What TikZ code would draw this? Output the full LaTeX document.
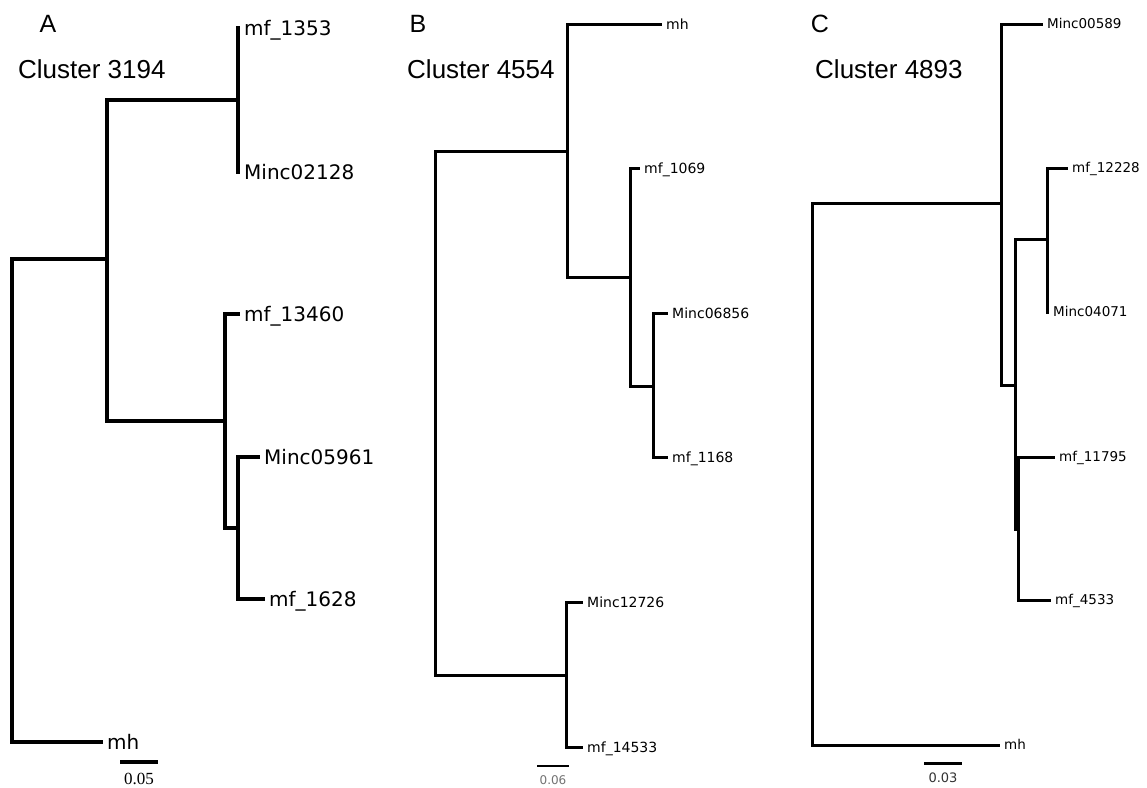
\documentclass[tikz,border=0pt]{standalone}
\usepackage{fontspec}
\newfontfamily\hdfont{Liberation Sans}
\newfontfamily\lblfont{DejaVu Sans}
\newfontfamily\barfont{Liberation Serif}
\usetikzlibrary{positioning}

\begin{document}
\begin{tikzpicture}[
  x=1pt, y=-1pt,
  panel/.style={font=\hdfont\fontsize{25}{29}\selectfont, inner sep=0pt},
  title/.style={font=\hdfont\fontsize{26}{30}\selectfont, anchor=west, inner sep=0pt},
  leafA/.style={font=\lblfont\fontsize{20}{24}\selectfont, anchor=west,
                inner sep=4pt, text height=14.6pt, text depth=0pt},
  leafB/.style={font=\lblfont\fontsize{14}{17}\selectfont, anchor=west,
                inner sep=4pt, text height=10.2pt, text depth=0pt},
  leafC/.style={font=\lblfont\fontsize{13.5}{16}\selectfont, anchor=west,
                inner sep=4pt, text height=9.9pt, text depth=0pt},
  brA/.style={line width=3.2pt},
  brB/.style={line width=3pt},
  brC/.style={line width=3pt},
]
\useasboundingbox[fill=white] (0,0) rectangle (1147,787);

% Panel A
\node[panel] (labA) at (48,24) {A};
\node[title] (cluA) at (18,69) {Cluster 3194};

\node[leafA] (a1353)  at (240,28)  {mf\_1353};
\node[leafA] (a2128)  at (240,172) {Minc02128};
\node[leafA] (a13460) at (240,314) {mf\_13460};
\node[leafA] (a5961)  at (260,457) {Minc05961};
\node[leafA] (a1628)  at (265,599) {mf\_1628};
\node[leafA] (amh)    at (103,742) {mh};

\coordinate (rA)  at (12,500);
\coordinate (nA1) at (107,259);
\coordinate (nA2) at (238,100);
\coordinate (nA3) at (225,421);
\coordinate (nA4) at (238,528);

\draw[brA] (rA) |- (nA1);  \draw[brA] (rA) |- (amh.west);
\draw[brA] (nA1) |- (nA2); \draw[brA] (nA1) |- (nA3);
\draw[brA] (nA2) |- (a1353.west); \draw[brA] (nA2) |- (a2128.west);
\draw[brA] (nA3) |- (a13460.west); \draw[brA] (nA3) |- (nA4);
\draw[brA] (nA4) |- (a5961.west); \draw[brA] (nA4) |- (a1628.west);

\coordinate (sA1) at (120,762);
\coordinate (sA2) at (158,762);
\draw[line width=4.5pt] (sA1) -- (sA2);
\node[font=\barfont\fontsize{17}{20}\selectfont, inner sep=0pt] (sAl) at (139,779) {0.05};

% Panel B
\node[panel] (labB) at (418,24) {B};
\node[title] (cluB) at (407,69) {Cluster 4554};

\node[leafB] (bmh)    at (662,24)  {mh};
\node[leafB] (b1069)  at (640,168) {mf\_1069};
\node[leafB] (b6856)  at (668,313) {Minc06856};
\node[leafB] (b1168)  at (668,457) {mf\_1168};
\node[leafB] (b12726) at (583,602) {Minc12726};
\node[leafB] (b14533) at (583,747) {mf\_14533};

\coordinate (rB)  at (435,400);
\coordinate (nB1) at (567,151);
\coordinate (nB2) at (630,277);
\coordinate (nB3) at (653,386);
\coordinate (nB4) at (566,675);

\draw[brB] (rB) |- (nB1);  \draw[brB] (rB) |- (nB4);
\draw[brB] (nB1) |- (bmh.west); \draw[brB] (nB1) |- (nB2);
\draw[brB] (nB2) |- (b1069.west); \draw[brB] (nB2) |- (nB3);
\draw[brB] (nB3) |- (b6856.west); \draw[brB] (nB3) |- (b1168.west);
\draw[brB] (nB4) |- (b12726.west); \draw[brB] (nB4) |- (b14533.west);

\coordinate (sB1) at (537,766);
\coordinate (sB2) at (569,766);
\draw[line width=2pt] (sB1) -- (sB2);
\node[font=\lblfont\fontsize{12}{14}\selectfont, text=black!55, inner sep=0pt] (sBl) at (553,780) {0.06};

% Panel C
\node[panel] (labC) at (820,24) {C};
\node[title] (cluC) at (815,69) {Cluster 4893};

\node[leafC] (c589)   at (1043,24)  {Minc00589};
\node[leafC] (c12228) at (1068,168) {mf\_12228};
\node[leafC] (c4071)  at (1049,312) {Minc04071};
\node[leafC] (c11795) at (1055,457) {mf\_11795};
\node[leafC] (c4533)  at (1051,600) {mf\_4533};
\node[leafC] (cmh)    at (1000,745) {mh};

\coordinate (rC)  at (812,450);
\coordinate (nC1) at (1001,203);
\coordinate (nC2) at (1015,385);
\coordinate (nC3) at (1047,239);
\coordinate (nC4) at (1018,529);

\draw[brC] (rC) |- (nC1);  \draw[brC] (rC) |- (cmh.west);
\draw[brC] (nC1) |- (c589.west); \draw[brC] (nC1) |- (nC2);
\draw[brC] (nC2) |- (nC3); \draw[brC] (nC2) |- (nC4);
\draw[brC] (nC3) |- (c12228.west); \draw[brC] (nC3) |- (c4071.west);
\draw[brC] (nC4) |- (c11795.west); \draw[brC] (nC4) |- (c4533.west);

\coordinate (sC1) at (924,763);
\coordinate (sC2) at (962,763);
\draw[line width=3pt] (sC1) -- (sC2);
\node[font=\lblfont\fontsize{13}{15}\selectfont, text=black!80, inner sep=0pt] (sCl) at (943,778) {0.03};
\end{tikzpicture}
\end{document}
